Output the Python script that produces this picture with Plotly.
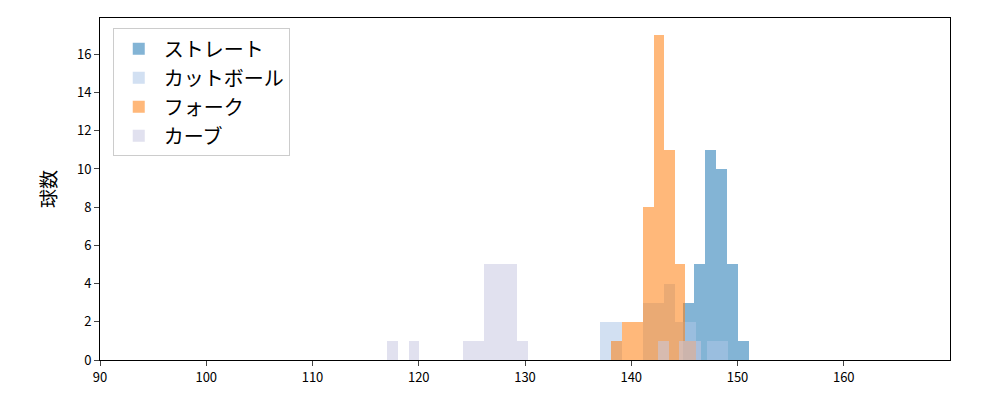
import plotly.graph_objects as go

names = ["ストレート", "カットボール", "フォーク", "カーブ"]
colors = ["#1f77b4", "#aec7e8", "#ff7f0e", "#c9c9e2"]
starts = [144.9, 137.1, 138.1, 117.0]
widths = [1.03, 1.0, 1.0, 1.02]
counts = [
    [3, 5, 11, 10, 5, 1],
    [2, 2, 0, 0, 3, 3, 4, 2, 2, 0, 1, 1],
    [1, 2, 2, 8, 17, 11, 5, 1],
    [1, 0, 1, 0, 0, 0, 0, 1, 1, 5, 5, 5, 1, 0, 0, 0, 0, 0, 0, 0, 0, 0, 0, 0, 0, 1, 0, 1, 1],
]

fig = go.Figure()
for n, c, s, w, cs in zip(names, colors, starts, widths, counts):
    xs = [s + i * w for i in range(len(cs))]
    fig.add_trace(go.Bar(x=xs, y=cs, width=w, offset=0, name=n,
                         marker=dict(color=c, line=dict(width=0)), opacity=0.55))

fig.update_layout(
    barmode="overlay", bargap=0, width=1000, height=400,
    paper_bgcolor="white", plot_bgcolor="white",
    margin=dict(l=92, r=58, t=10, b=48),
    font=dict(family="Noto Sans CJK JP, DejaVu Sans", size=13, color="black"),
    legend=dict(x=0.015, y=0.97, xanchor="left", yanchor="top",
                bordercolor="#cccccc", borderwidth=1, font=dict(size=20),
                bgcolor="rgba(255,255,255,0.8)", itemwidth=40),
    xaxis=dict(range=[90, 170], tickvals=[90, 100, 110, 120, 130, 140, 150, 160],
               showgrid=False, showline=True, linecolor="black", mirror=True,
               ticks="outside", ticklen=5, zeroline=False),
    yaxis=dict(range=[0, 17.9], tickvals=list(range(0, 17, 2)), showgrid=False,
               showline=True, linecolor="black", mirror=True, ticks="outside",
               ticklen=5, zeroline=False,
               title=dict(text="球数", font=dict(size=19))),
)
fig.write_html("out.html")
